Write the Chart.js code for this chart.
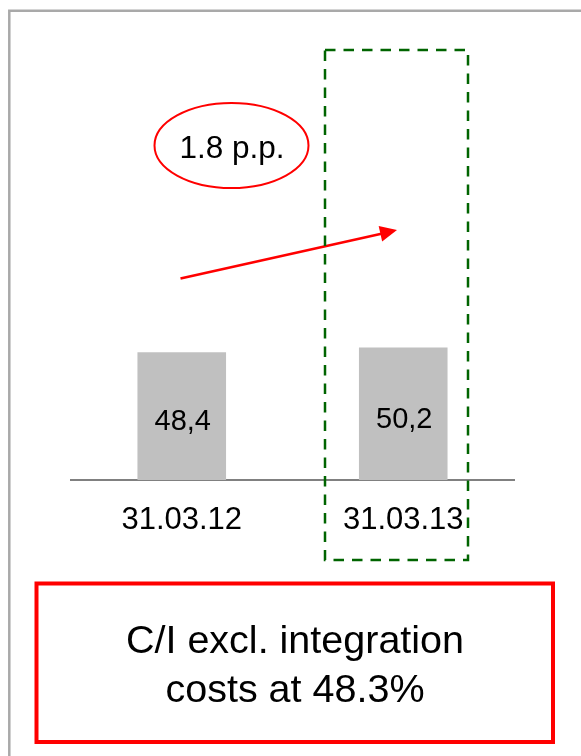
<!DOCTYPE html>
<html>
<head>
<meta charset="utf-8">
<script src="https://cdn.jsdelivr.net/npm/chart.js@4/dist/chart.umd.min.js"></script>
<style>
  html, body { margin: 0; padding: 0; background: #ffffff; }
  canvas { display: block; }
</style>
</head>
<body>
<canvas id="ratioChart" width="581" height="756"></canvas>
<script>
// Cost/income ratio, in percent
const categories = ['31.03.12', '31.03.13'];
const ratioValues = [48.4, 50.2];
const changeLabel = '1.8 p.p.';
const noteLines = ['C/I excl. integration', 'costs at 48.3%'];

const FONT = '"Liberation Sans", Arial, Helvetica, sans-serif';
const RED = '#ff0000';

function formatComma(v) {
  return v.toFixed(1).replace('.', ',');
}

const overlay = {
  id: 'overlay',
  beforeDraw(chart) {
    // slide frame: left and top edges
    const ctx = chart.ctx;
    ctx.save();
    ctx.strokeStyle = '#a9a9a9';
    ctx.lineWidth = 2.5;
    ctx.beginPath();
    ctx.moveTo(9.3, chart.height);
    ctx.lineTo(9.3, 10.75);
    ctx.lineTo(chart.width, 10.75);
    ctx.stroke();
    ctx.restore();
  },
  afterDatasetsDraw(chart) {
    // value labels inside the bars
    const ctx = chart.ctx;
    const meta = chart.getDatasetMeta(0);
    const data = chart.data.datasets[0].data;
    ctx.save();
    ctx.fillStyle = '#000000';
    ctx.font = '29px ' + FONT;
    ctx.textAlign = 'center';
    ctx.textBaseline = 'alphabetic';
    meta.data.forEach((bar, i) => {
      const mid = (bar.y + bar.base) / 2;
      ctx.fillText(formatComma(data[i]), bar.x + 1, mid + 14);
    });
    ctx.restore();
  },
  afterDraw(chart) {
    const ctx = chart.ctx;
    ctx.save();

    // change callout
    ctx.strokeStyle = RED;
    ctx.lineWidth = 2;
    ctx.beginPath();
    ctx.ellipse(231.5, 145.5, 77, 42.5, 0, 0, Math.PI * 2);
    ctx.stroke();
    ctx.fillStyle = '#000000';
    ctx.font = '31.5px ' + FONT;
    ctx.textAlign = 'center';
    ctx.textBaseline = 'alphabetic';
    ctx.fillText(changeLabel, 232, 157.5);

    // trend arrow
    const x0 = 180.5, y0 = 278.5, x1 = 397, y1 = 230;
    const ang = Math.atan2(y1 - y0, x1 - x0);
    const headLen = 17, headHalf = 8;
    const bx = x1 - headLen * Math.cos(ang), by = y1 - headLen * Math.sin(ang);
    ctx.strokeStyle = RED;
    ctx.lineWidth = 2.5;
    ctx.beginPath();
    ctx.moveTo(x0, y0);
    ctx.lineTo(bx + 1, by);
    ctx.stroke();
    ctx.fillStyle = RED;
    ctx.beginPath();
    ctx.moveTo(x1, y1);
    ctx.lineTo(bx + headHalf * Math.sin(ang), by - headHalf * Math.cos(ang));
    ctx.lineTo(bx - headHalf * Math.sin(ang), by + headHalf * Math.cos(ang));
    ctx.closePath();
    ctx.fill();

    // highlight frame around the latest period
    ctx.strokeStyle = '#006400';
    ctx.lineWidth = 2.5;
    ctx.setLineDash([10.5, 8]);
    ctx.strokeRect(325, 50, 143, 510);
    ctx.setLineDash([]);

    // note box
    ctx.strokeStyle = RED;
    ctx.lineWidth = 4;
    ctx.strokeRect(36.5, 583.5, 516.5, 158.5);
    ctx.fillStyle = '#000000';
    ctx.font = '39.5px ' + FONT;
    ctx.textAlign = 'center';
    ctx.fillText(noteLines[0], 295, 653);
    ctx.fillText(noteLines[1], 295, 702);

    ctx.restore();
  }
};

new Chart(document.getElementById('ratioChart'), {
  type: 'bar',
  data: {
    labels: categories,
    datasets: [{
      data: ratioValues,
      backgroundColor: '#c0c0c0',
      borderWidth: 0,
      barPercentage: 0.4,
      categoryPercentage: 1.0
    }]
  },
  options: {
    responsive: false,
    animation: false,
    devicePixelRatio: 1,
    layout: { padding: { left: 71, right: 67, top: 58, bottom: 216 } },
    plugins: {
      legend: { display: false },
      title: { display: false },
      tooltip: { enabled: false }
    },
    scales: {
      x: {
        grid: { display: false, drawTicks: false },
        border: { display: true, color: '#808080', width: 2 },
        ticks: {
          color: '#000000',
          font: { family: FONT, size: 31 },
          padding: 22,
          maxRotation: 0
        },
        afterFit(scale) { scale.height = 60; }
      },
      y: {
        display: false,
        min: 0,
        max: 160
      }
    }
  },
  plugins: [overlay]
});
</script>
</body>
</html>
